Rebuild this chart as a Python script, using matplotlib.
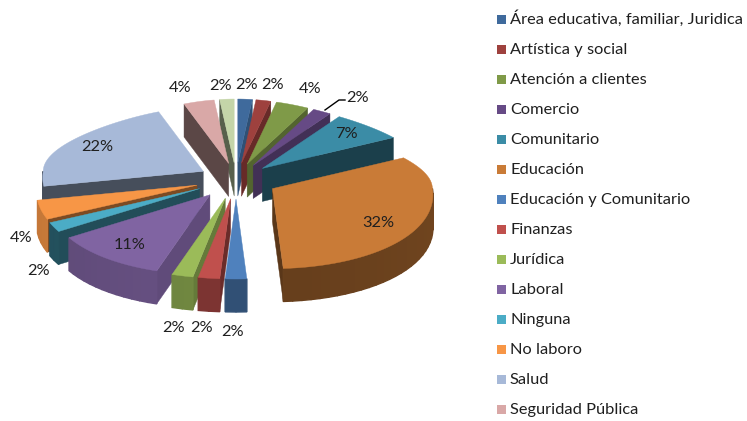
import numpy as np
import matplotlib
matplotlib.use("Agg")
import matplotlib.pyplot as plt
from matplotlib.colors import to_rgb

plt.rcParams['font.family'] = ['Lato', 'DejaVu Sans']

# datos de la grafica
categorias = ["Área educativa, familiar, Juridica", "Artística y social", "Atención a clientes",
              "Comercio", "Comunitario", "Educación", "Educación y Comunitario", "Finanzas",
              "Jurídica", "Laboral", "Ninguna", "No laboro", "Salud", "Seguridad Pública", "Otra"]
valores = [2, 2, 4, 2, 7, 32, 2, 2, 2, 11, 2, 4, 22, 4, 2]
colores = ["#3f6a9c", "#9e413e", "#7f9a48", "#664a85", "#3b8ca6", "#c97b37", "#4f81bd", "#c0504d",
           "#9bbb59", "#8064a2", "#4bacc6", "#f79646", "#a7b9d8", "#d9a8a7", "#c4d5a8"]
# oscurecido de las paredes (radial, exterior)
sombra_radial = [0.75, 0.65, 0.65, 0.65, 0.45, 0.45, 0.55, 0.55, 0.65, 0.75, 0.45, 0.5, 0.42, 0.42, 0.45]
sombra_ext = [0.6, 0.55, 0.65, 0.55, 0.5, 0.45, 0.55, 0.58, 0.65, 0.72, 0.45, 0.78, 0.42, 0.45, 0.5]
# posicion de las etiquetas en pixeles (centro x, linea base y)
etiquetas_xy = [(247, 89), (273, 89), (310, 93), (358, 102), (346, 138), (378, 227), (233, 336),
                (202, 332), (174, 332), (130, 249), (39, 275), (21, 242), (97, 151), (180, 92), (221, 90)]

cx, cy = 236, 179
rx, ry_lejos, ry_cerca = 160, 64, 80
explota = 0.25
fondo = 33

fig = plt.figure(figsize=(7.47, 4.21), dpi=100)
ax = fig.add_axes([0, 0, 1, 1])
ax.set_xlim(0, 747)
ax.set_ylim(421, 0)
ax.axis("off")


# angulo en grados, horario desde arriba
def borde(ang):
    u = np.sin(np.radians(ang))
    v = np.cos(np.radians(ang))
    esc = np.where(v > 0, 1 - 0.28 * v ** 2, 1 - 0.08 * v)
    x = rx * u * esc
    y = -np.where(v > 0, ry_lejos * v, ry_cerca * v)
    return x, y


def oscurece(color, f):
    return tuple(c * f for c in to_rgb(color))


acum = np.cumsum([0] + valores) * 3.6
orden = sorted(range(len(valores)), key=lambda i: -np.cos(np.radians((acum[i] + acum[i + 1]) / 2)))

for i in orden:
    a1, a2 = acum[i], acum[i + 1]
    mx, my = borde((a1 + a2) / 2)
    px, py = cx + explota * mx, cy + explota * my
    col = colores[i]

    # paredes radiales que miran al frente
    for a, visible in ((a1, np.sin(np.radians(a1)) < 0), (a2, np.sin(np.radians(a2)) > 0)):
        if visible:
            bx, by = borde(a)
            ax.fill([px, px + bx, px + bx, px], [py, py + by, py + by + fondo, py + fondo],
                    color=oscurece(col, sombra_radial[i]), lw=0.3)

    # pared exterior, por tramos para el degradado
    ini, fin = max(a1, 90), min(a2, 270)
    if fin > ini:
        tramos = np.linspace(ini, fin, max(int((fin - ini) / 3), 1) + 1)
        for t1, t2 in zip(tramos[:-1], tramos[1:]):
            x1, y1 = borde(t1)
            x2, y2 = borde(t2)
            f = sombra_ext[i] * (1 + 0.25 * (270 - t1) / 180)
            ax.fill([px + x1, px + x2, px + x2, px + x1],
                    [py + y1, py + y2, py + y2 + fondo, py + y1 + fondo],
                    color=oscurece(col, min(f, 1)), lw=1.0)

    # cara superior
    arco = np.linspace(a1, a2, 60)
    bx, by = borde(arco)
    ax.fill(np.r_[px, px + bx], np.r_[py, py + by], color=col, lw=0.3)

for v, (x, y) in zip(valores, etiquetas_xy):
    ax.text(x, y, "%d%%" % v, ha="center", va="baseline", fontsize=11.8, color="#1f1f1f", zorder=5)

# linea guia de Comercio
ax.plot([325, 339, 345], [110, 100, 100], color="black", lw=1, zorder=4)

# leyenda
for i, nombre in enumerate(categorias[:14]):
    y = 19 + i * 30
    ax.fill([497, 506, 506, 497], [y - 4.5, y - 4.5, y + 4.5, y + 4.5], color=colores[i], lw=0)
    ax.text(510, y + 5, nombre, ha="left", va="baseline", fontsize=11.8, color="#1f1f1f")

fig.savefig("out.png", dpi=100)
